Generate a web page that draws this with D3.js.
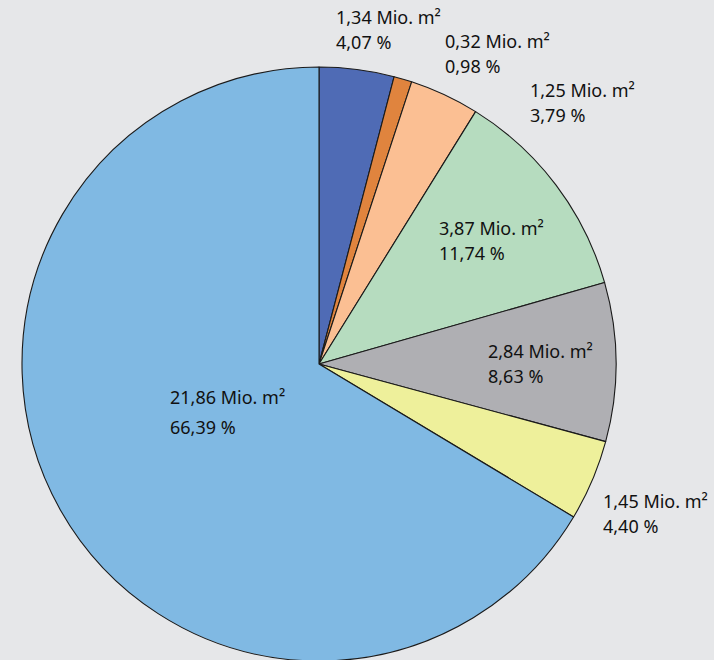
<!DOCTYPE html>
<html><head><meta charset="utf-8">
<script src="https://cdn.jsdelivr.net/npm/d3@7"></script>
<style>
html,body{margin:0;padding:0;background:#e6e7e9;}
svg{display:block;}
text{font-family:"Noto Sans","Open Sans",sans-serif;font-size:18px;fill:#111;}
</style></head>
<body>
<svg id="chart" width="714" height="660"></svg>
<script>
const categories = ["A","B","C","D","E","F","G"];
const areas = [1.34, 0.32, 1.25, 3.87, 2.84, 1.45, 21.86];
const percents = [4.07, 0.98, 3.79, 11.74, 8.63, 4.40, 66.39];
const areaLabels = ["1,34","0,32","1,25","3,87","2,84","1,45","21,86"];
const percentLabels = ["4,07","0,98","3,79","11,74","8,63","4,40","66,39"];
const colors = ["#4f6bb5","#e0843e","#fbbf93","#b6dcbf","#afafb3","#eef09b","#80b9e3"];
// label layout (offsets from pie centre, px) – presentation only
const labelOffsets = [[17,-340],[126,-316],[211,-267],[120,-129],[169,-6],[284,144],[-149,40]];
const lineGaps = [25,25,25,25,25,25,30];

const svg = d3.select("#chart");
const cx = 319, cy = 364, r = 297;
const g = svg.append("g").attr("transform", `translate(${cx},${cy})`);

const data = categories.map((c,i)=>({cat:c, area:areas[i], pct:percents[i], i}));
const pie = d3.pie().sort(null).value(d=>d.pct).startAngle(0).endAngle(2*Math.PI);
const arc = d3.arc().innerRadius(0).outerRadius(r);
const color = d3.scaleOrdinal().domain(categories).range(colors);

g.selectAll("path").data(pie(data)).join("path")
  .attr("d", arc)
  .attr("fill", d=>color(d.data.cat))
  .attr("stroke", "#1a1a1a")
  .attr("stroke-width", 1.1)
  .attr("stroke-linejoin","round");

const lab = g.selectAll("g.lab").data(data).join("g").attr("class","lab")
  .attr("transform", d=>`translate(${labelOffsets[d.i][0]},${labelOffsets[d.i][1]})`);
lab.append("text").text(d=>`${areaLabels[d.i]} Mio. m²`);
lab.append("text").attr("y", d=>lineGaps[d.i]).text(d=>`${percentLabels[d.i]} %`);
</script>
</body></html>
